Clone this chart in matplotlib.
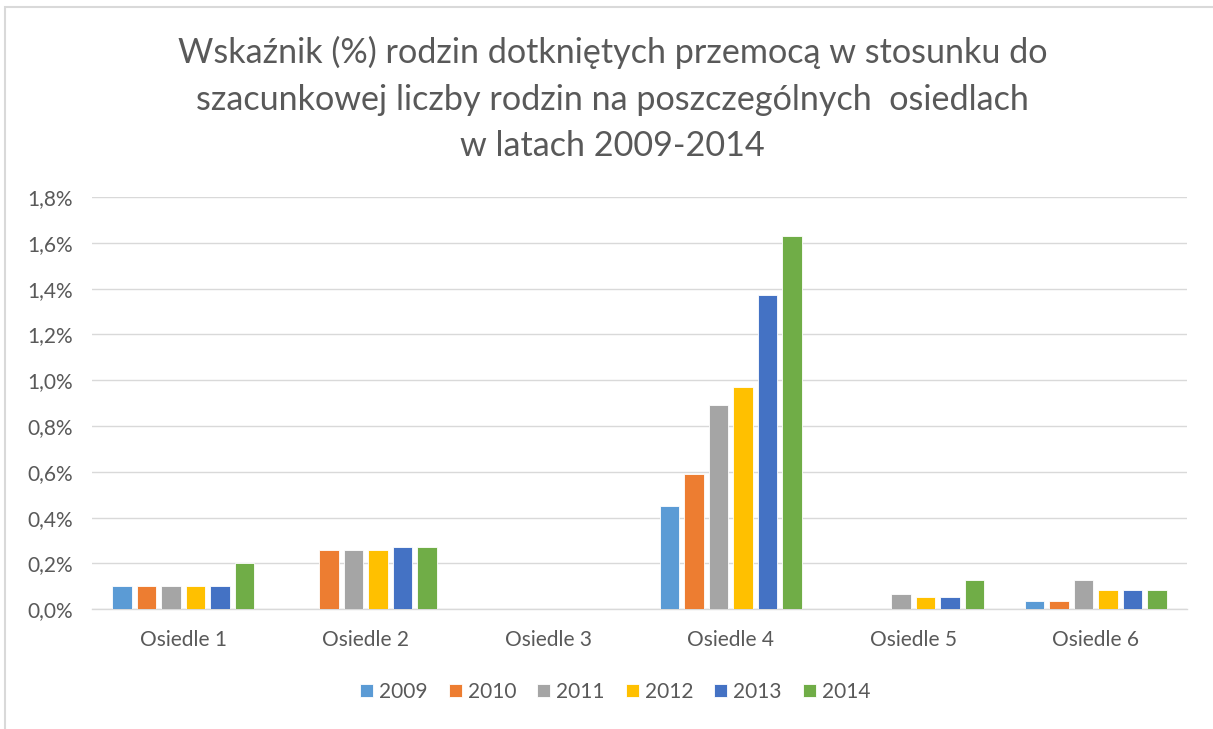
import matplotlib.pyplot as plt
import numpy as np
from matplotlib.patches import Rectangle
from matplotlib.ticker import FuncFormatter, MultipleLocator

plt.rcParams['font.family'] = ['Lato', 'DejaVu Sans']

osiedla = ["Osiedle 1", "Osiedle 2", "Osiedle 3", "Osiedle 4", "Osiedle 5", "Osiedle 6"]
lata = ["2009", "2010", "2011", "2012", "2013", "2014"]

# wskaźnik w % dla kolejnych lat, po jednej wartości na osiedle
w2009 = [0.10, 0.00, 0.00, 0.45, 0.00, 0.035]
w2010 = [0.10, 0.26, 0.00, 0.59, 0.00, 0.035]
w2011 = [0.10, 0.26, 0.00, 0.89, 0.067, 0.13]
w2012 = [0.10, 0.26, 0.00, 0.97, 0.055, 0.085]
w2013 = [0.10, 0.27, 0.00, 1.37, 0.055, 0.085]
w2014 = [0.20, 0.27, 0.00, 1.63, 0.13, 0.085]

kolory = ["#5B9BD5", "#ED7D31", "#A5A5A5", "#FFC000", "#4472C4", "#70AD47"]
TEXT = "#595959"
GRID = "#D9D9D9"

fig = plt.figure(figsize=(12.13, 7.29), dpi=100)
ax = fig.add_axes([0.0758, 0.1642, 0.9028, 0.5656])

seria = [w2009, w2010, w2011, w2012, w2013, w2014]
x = np.arange(len(osiedla))
krok = 0.134
szer = 0.106
for i, (rok, wart) in enumerate(zip(lata, seria)):
    off = (i - 2.5) * krok
    vals = np.array(wart)
    ax.bar(x + off, np.where(vals > 0, vals, np.nan), width=szer, color=kolory[i],
           edgecolor="white", linewidth=0.6, label=rok, zorder=3)

ax.set_xlim(-0.5, len(osiedla) - 0.5)
ax.set_ylim(0, 1.8)
ax.yaxis.set_major_locator(MultipleLocator(0.2))
ax.yaxis.set_major_formatter(FuncFormatter(lambda v, p: f"{v:.1f}%".replace(".", ",")))
ax.grid(axis="y", color=GRID, linewidth=1.0, zorder=0)
ax.set_xticks(x)
ax.set_xticklabels(osiedla)
ax.tick_params(axis="both", length=0, colors=TEXT, labelsize=15)
ax.tick_params(axis="x", pad=15)
ax.tick_params(axis="y", pad=14)
for s in ["top", "right", "left"]:
    ax.spines[s].set_visible(False)
ax.spines["bottom"].set_color(GRID)
ax.spines["bottom"].set_linewidth(1.0)

fig.text(0.505, 1 - 99 / 729,
         "Wskaźnik (%) rodzin dotkniętych przemocą w stosunku do\n"
         "szacunkowej liczby rodzin na poszczególnych  osiedlach\n"
         "w latach 2009-2014",
         ha="center", va="center", fontsize=24.6, color=TEXT, linespacing=1.56)

leg = ax.legend(loc="center", bbox_to_anchor=(0.478, -0.2), ncol=6, frameon=False,
                fontsize=15, handlelength=0.62, handleheight=0.62, handletextpad=0.3,
                columnspacing=1.0)
for t in leg.get_texts():
    t.set_color(TEXT)

# ramka wykresu
fig.patches.append(Rectangle((5 / 1213, -0.1), 1.2, 1 - 7 / 729 + 0.1,
                             transform=fig.transFigure, fill=False,
                             edgecolor=GRID, linewidth=1.5))

fig.savefig("out.png", dpi=100)
